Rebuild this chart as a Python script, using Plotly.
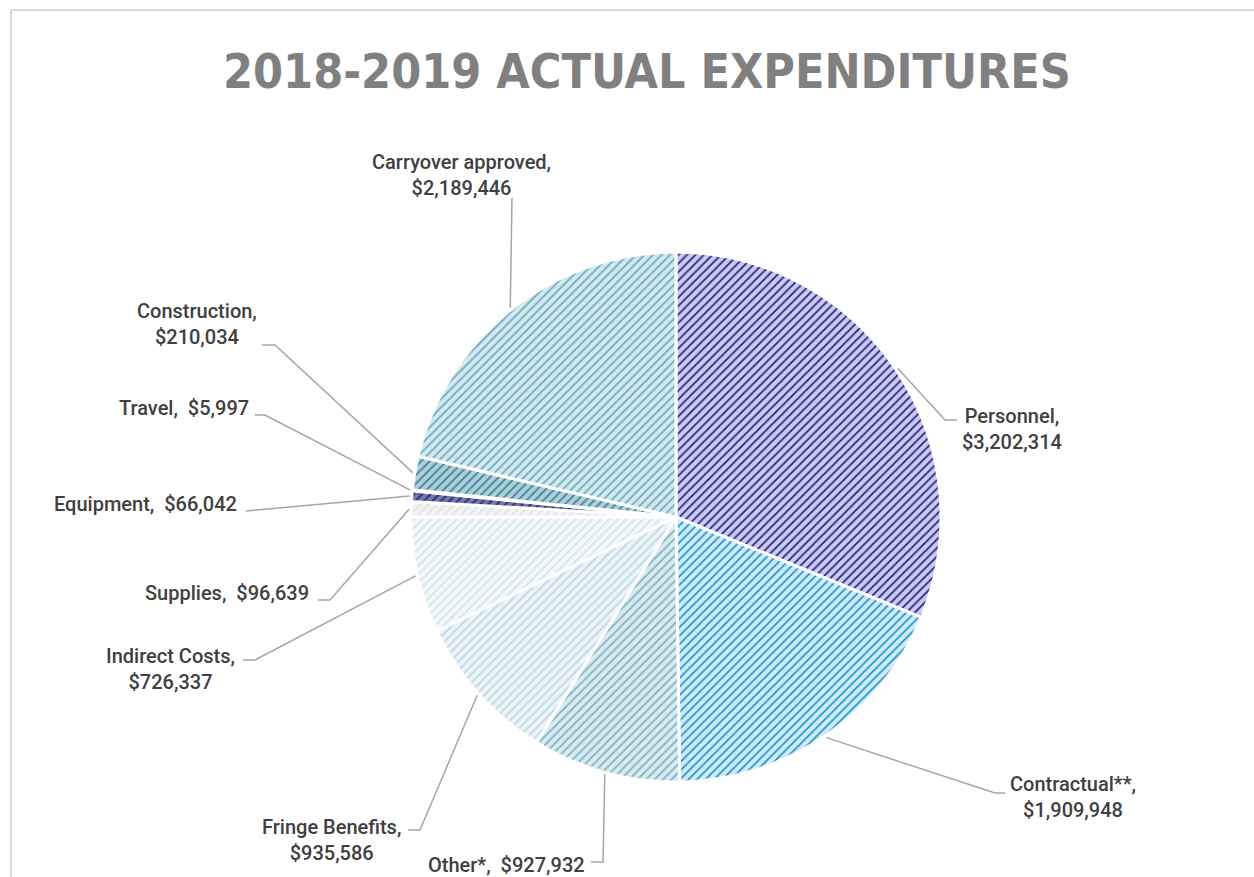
import math
import plotly.graph_objects as go

# ---------------- data ----------------
categories = ["Personnel", "Contractual**", "Other*", "Fringe Benefits", "Indirect Costs",
              "Supplies", "Equipment", "Travel", "Construction", "Carryover approved"]
values = [3202314, 1909948, 927932, 935586, 726337, 96639, 66042, 5997, 210034, 2189446]
label_texts = ["Personnel,<br>$3,202,314", "Contractual**,<br>$1,909,948",
               "Other*,\u00a0 $927,932", "Fringe Benefits,<br>$935,586",
               "Indirect Costs,<br>$726,337", "Supplies,\u00a0 $96,639",
               "Equipment,\u00a0 $66,042", "Travel,\u00a0 $5,997",
               "Construction,<br>$210,034", "Carryover approved,<br>$2,189,446"]

# ---------------- style ----------------
W, H = 1254, 877
CX, CY, R = 676, 517, 265
bg_colors = ["#C8CAEF", "#CFEBF8", "#D9EAF0", "#ECF4F7", "#F4F8FA",
             "#F3F3F3", "#7476AE", "#6E98AE", "#AFCFD9", "#D4E8EE"]
fg_colors = ["#2A2383", "#2594CE", "#7FB3C3", "#BCD7E0", "#D2E4EA",
             "#E3E3E3", "#2B2B6B", "#3C6E8A", "#3C8499", "#6AABBF"]

# label placement (pixel): (x, y, xanchor), elbow point, line end point
label_place = [
    (960, 429, "left",   (945, 420), (957, 420)),
    (1008, 797, "left",  (995, 793), (1005, 793)),
    (587, 865, "right",  (603, 862), (591, 862)),
    (403, 840, "right",  (420, 830), (408, 830)),
    (237, 669, "right",  (255, 660), (243, 660)),
    (311, 593, "right",  (330, 600), (318, 600)),
    (239, 504, "right",  (246, 511), (246, 511)),
    (251, 408, "right",  (265, 415), (255, 415)),
    (259, 324, "right",  (275, 345), (262, 345)),
    (461, 175, "center", (512, 198), (512, 198)),
]


def px(x):
    return x / W


def py(y):
    return 1 - y / H


fig = go.Figure()
fig.add_trace(go.Pie(
    labels=categories, values=values, sort=False, direction="clockwise",
    rotation=0, textinfo="none", hoverinfo="label+value",
    domain=dict(x=[px(CX - R), px(CX + R)], y=[py(CY + R), py(CY - R)]),
    marker=dict(colors=bg_colors,
                line=dict(color="white", width=3),
                pattern=dict(shape="/", fgcolor=fg_colors, bgcolor=bg_colors,
                             size=6, solidity=0.3)),
))

total = sum(values)
cum = 0
shapes = []
annotations = []
for i, v in enumerate(values):
    mid = (cum + v / 2) / total
    cum += v
    ang = 2 * math.pi * mid
    ax = CX + (R + 2) * math.sin(ang)
    ay = CY - (R + 2) * math.cos(ang)
    lx, ly, anchor, elbow, end = label_place[i]
    path = "M %f %f L %f %f L %f %f" % (px(ax), py(ay), px(elbow[0]), py(elbow[1]),
                                         px(end[0]), py(end[1]))
    shapes.append(dict(type="path", xref="paper", yref="paper", path=path,
                       line=dict(color="#A6A6A6", width=1.5)))
    annotations.append(dict(x=px(lx), y=py(ly), xref="paper", yref="paper",
                            text=label_texts[i], showarrow=False,
                            xanchor=anchor, yanchor="middle", align="center",
                            font=dict(family="Roboto, Liberation Sans, Arial, sans-serif",
                                      size=20, weight=500, color="#404040")))

annotations.append(dict(x=px(647), y=py(71), xref="paper", yref="paper",
                        text="<b>2018-2019 ACTUAL EXPENDITURES</b>", showarrow=False,
                        xanchor="center", yanchor="middle",
                        font=dict(family="DejaVu Sans Condensed, Liberation Sans Narrow, DejaVu Sans",
                                  size=48, color="#808080")))

# chart border (left and top)
shapes.append(dict(type="line", xref="paper", yref="paper", x0=px(11), x1=px(11),
                   y0=py(10), y1=0, line=dict(color="#D9D9D9", width=2)))
shapes.append(dict(type="line", xref="paper", yref="paper", x0=px(11), x1=1,
                   y0=py(10), y1=py(10), line=dict(color="#D9D9D9", width=2)))

fig.update_layout(width=W, height=H, margin=dict(l=0, r=0, t=0, b=0),
                  paper_bgcolor="white", plot_bgcolor="white", showlegend=False,
                  shapes=shapes, annotations=annotations)

fig.write_html("out.html", config={"displayModeBar": False},
               post_script="document.body.style.margin='0';")
